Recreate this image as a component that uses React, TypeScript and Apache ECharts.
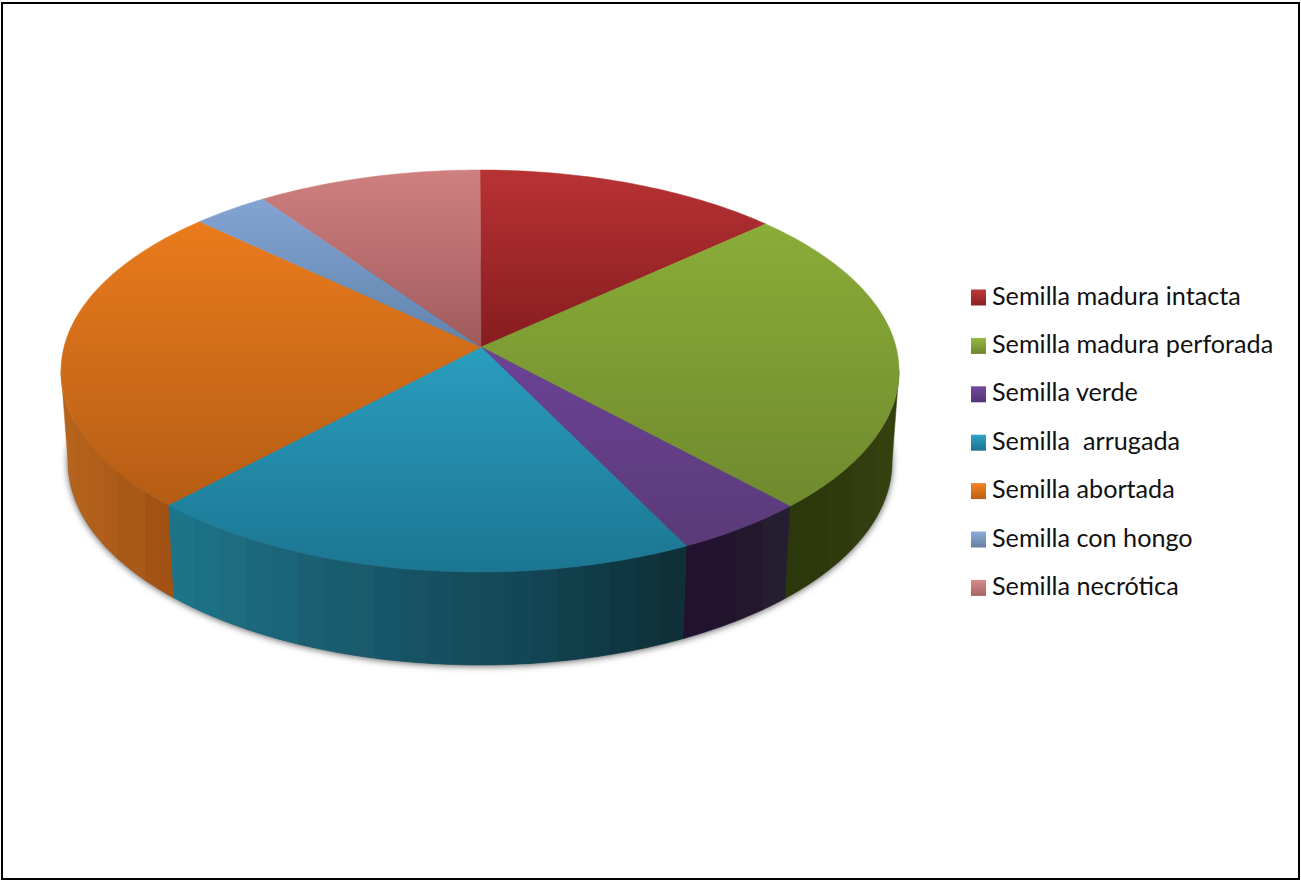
import React, { useEffect, useRef } from "react";
import * as echarts from "echarts";

const categories = [
  "Semilla madura intacta",
  "Semilla madura perforada",
  "Semilla verde",
  "Semilla  arrugada",
  "Semilla abortada",
  "Semilla con hongo",
  "Semilla necrótica",
];
const sliceValues = [13.3, 24.8, 4.6, 19.3, 25.0, 3.3, 9.7];

const topLight = ["#b83234", "#8aac38", "#6c4296", "#2a9dbf", "#ea7b1c", "#84a4d4", "#cf8080"];
const topDark = ["#861c1f", "#6f8a2e", "#5a3a78", "#1c7692", "#b55d15", "#5f84ab", "#a05a5c"];
const legendLight = ["#c0393b", "#94b944", "#7449a0", "#2ea5c8", "#f58220", "#8dabdc", "#d88a8a"];
const legendDark = ["#8a2022", "#6f862d", "#533573", "#1c7290", "#ba6014", "#66819f", "#a56465"];

// Facets of the rim, listed from left to right for each slice.
const rimBands: string[][] = [
  ["#861c1f"],
  ["#2c380c", "#2d390c", "#2f3b0d", "#323e0f", "#34410f"],
  ["#21122f", "#22132f", "#24182f", "#251d30"],
  [
    "#1d7489", "#1c7086", "#1e6c80", "#1b687d", "#1a6478", "#1b6072", "#195c6e",
    "#1a5a6b", "#17566a", "#175263", "#164f60", "#154c5c", "#144a59", "#114756",
    "#124453", "#113f4c", "#103b48", "#0f3743", "#10343e", "#0f3039",
  ],
  ["#b6641d", "#b3621b", "#b0601a", "#ad5c19", "#a85817", "#a95a19", "#a35414", "#a15213"],
  ["#5f84ab"],
  ["#a05a5c"],
];

// Projected outline of the disc.
const top = { cx: 480, cy: 371, rx: 419, ry: 201 };
const bottom = { cx: 480, cy: 462, rx: 412, ry: 203 };
const apex = { x: 481, y: 347 };

const apexV = Math.abs((apex.y - top.cy) / top.ry);
const hyper = (1 - Math.sqrt(1 - apexV * apexV)) / apexV;
const squeeze = (1 - hyper) / (1 + hyper);

const total = sliceValues.reduce((a, b) => a + b, 0);
const startShares = sliceValues.map((_, i) =>
  sliceValues.slice(0, i).reduce((a, b) => a + b, 0)
);

// Turns a share of the circle into the viewed angle, with the centre pushed towards the back.
const viewAngle = (share: number) => {
  const half = (share / total) * Math.PI;
  return 2 * Math.atan2(squeeze * Math.sin(half), Math.cos(half));
};

const onEllipse = (e: typeof top, a: number): [number, number] => [
  e.cx + e.rx * Math.sin(a),
  e.cy - e.ry * Math.cos(a),
];

const sweep = (from: number, to: number) => {
  const step = Math.PI / 180;
  const out: number[] = [];
  for (let a = from; a < to; a += step) out.push(a);
  out.push(to);
  return out;
};

const bandStops = (colors: string[]) =>
  colors.flatMap((color, i) => [
    { offset: i / colors.length, color },
    { offset: (i + 1) / colors.length, color },
  ]);

const vertical = (a: string, b: string) =>
  new echarts.graphic.LinearGradient(0, 0, 0, 1, [
    { offset: 0, color: a },
    { offset: 1, color: b },
  ]);

const renderSlice = (index: number) => (_: unknown, api: any) => {
  const from = viewAngle(api.value(1));
  const to = viewAngle(api.value(1) + api.value(0));
  const children: any[] = [];

  const frontFrom = Math.max(from, Math.PI / 2);
  const frontTo = Math.min(to, (3 * Math.PI) / 2);
  if (frontTo > frontFrom) {
    const arc = sweep(frontFrom, frontTo);
    const fill = new echarts.graphic.LinearGradient(0, 0, 1, 0, bandStops(rimBands[index]));
    children.push({
      type: "polygon",
      shape: {
        points: [
          ...arc.map((a) => onEllipse(top, a)),
          ...arc.slice().reverse().map((a) => onEllipse(bottom, a)),
        ],
      },
      style: { fill, stroke: fill, lineWidth: 0.5 },
    });
  }

  const face = vertical(topLight[index], topDark[index]);
  children.push({
    type: "polygon",
    shape: {
      points: [[apex.x, apex.y], ...sweep(from, to).map((a) => onEllipse(top, a))],
    },
    style: { fill: face, stroke: face, lineWidth: 0.5 },
  });
  return { type: "group", children };
};

export default function App() {
  const ref = useRef<HTMLDivElement>(null);

  useEffect(() => {
    document.body.style.margin = "0";
    const chart = echarts.init(ref.current!, null, { renderer: "svg" });
    const labelFont = { fontFamily: "Lato", fontSize: 25.2, color: "#111111" };
    chart.setOption({
      animation: false,
      backgroundColor: "#ffffff",
      legend: {
        orient: "vertical",
        left: 971,
        top: 282,
        itemWidth: 15,
        itemHeight: 16,
        itemGap: 17.4,
        selectedMode: false,
        padding: 0,
        formatter: (name: string) => `{t|${name}}`,
        textStyle: {
          ...labelFont,
          rich: {
            t: { ...labelFont, lineHeight: 28, padding: [0, 0, 6, 1] },
          },
        },
        data: categories.map((name, i) => ({
          name,
          icon: "rect",
          itemStyle: { color: vertical(legendLight[i], legendDark[i]) },
        })),
      },
      graphic: [
        {
          type: "rect",
          z: -2,
          shape: { x: 2, y: 3, width: 1297, height: 876 },
          style: { fill: "#ffffff", stroke: "#000000", lineWidth: 2 },
        },
        {
          type: "ellipse",
          z: -1,
          shape: { cx: bottom.cx, cy: bottom.cy, rx: bottom.rx, ry: bottom.ry },
          style: {
            fill: "#555555",
            shadowBlur: 7,
            shadowColor: "rgba(0,0,0,0.65)",
            shadowOffsetY: 1,
          },
        },
      ],
      series: categories.map((name, i) => ({
        type: "custom",
        name,
        coordinateSystem: "none",
        silent: true,
        clip: false,
        data: [[sliceValues[i], startShares[i]]],
        renderItem: renderSlice(i),
      })),
    });
    return () => chart.dispose();
  }, []);

  return <div ref={ref} style={{ width: 1301, height: 880 }} />;
}
